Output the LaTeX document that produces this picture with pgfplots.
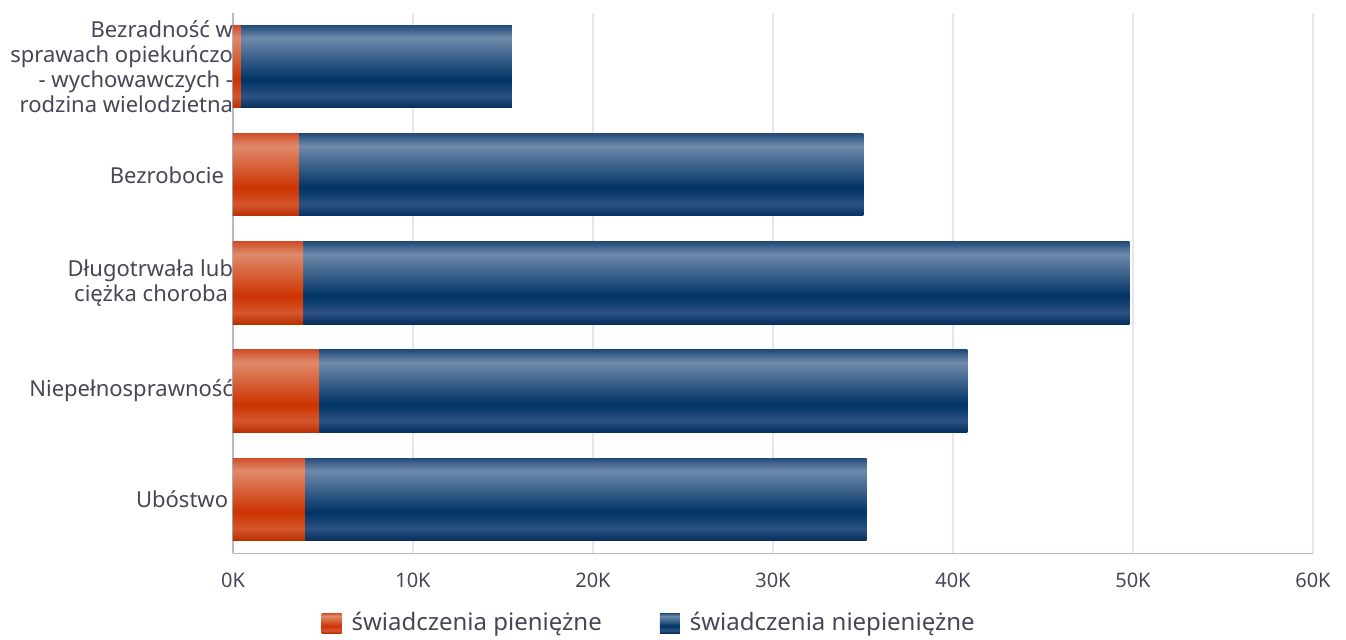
\documentclass[border=0pt]{standalone}
\usepackage{fontspec}
\setmainfont{Noto Sans}
\usepackage{pgfplots}
\pgfplotsset{compat=1.18}

\definecolor{txt}{HTML}{464657}
\definecolor{gridc}{HTML}{E6E6EE}
\definecolor{axc}{HTML}{B8B8CC}
% blue bar tones, top to bottom
\definecolor{bA}{HTML}{244C7A}
\definecolor{bB}{HTML}{6F8AAB}
\definecolor{bC}{HTML}{003366}
\definecolor{bD}{HTML}{2B5282}
\definecolor{bE}{HTML}{052F5E}
% orange bar tones, top to bottom
\definecolor{oA}{HTML}{D0502A}
\definecolor{oB}{HTML}{E08A6C}
\definecolor{oC}{HTML}{CC3300}
\definecolor{oD}{HTML}{D5562E}
\definecolor{oE}{HTML}{B83000}

\pgfdeclareverticalshading{blueshade}{100bp}{color(0bp)=(bE); color(25bp)=(bE); color(32bp)=(bD); color(42bp)=(bC); color(67.5bp)=(bB); color(75bp)=(bA); color(100bp)=(bA)}
\pgfdeclareverticalshading{orangeshade}{100bp}{color(0bp)=(oE); color(25bp)=(oE); color(32bp)=(oD); color(42bp)=(oC); color(67.5bp)=(oB); color(75bp)=(oA); color(100bp)=(oA)}

\pgfplotsset{
  blueb/.style={draw=none, shade, shading=blueshade, forget plot},
  orangeb/.style={draw=none, shade, shading=orangeshade, forget plot},
}

\begin{document}
\begin{tikzpicture}
\useasboundingbox (-116.5pt,-42.85pt) rectangle (556.5pt,276.65pt);
\begin{axis}[
  at={(0,0)}, anchor=south west,
  scale only axis,
  width=540pt, height=270.4pt,
  xbar, bar shift=0pt,
  bar width=0.76,
  xmin=0, xmax=60000,
  ymin=-0.5, ymax=4.5,
  axis x line*=bottom,
  axis y line*=left,
  axis line style={-, color=axc, line width=0.6pt},
  xmajorgrids,
  grid style={color=gridc, line width=0.6pt},
  xtick={0,10000,20000,30000,40000,50000,60000},
  xticklabels={0K,10K,20K,30K,40K,50K,60K},
  scaled x ticks=false,
  xtick style={draw=none},
  xticklabel style={anchor=base, yshift=-17pt, inner sep=0pt,
    font=\fontsize{10}{12}\selectfont, text=txt},
  ytick={0,1,2,3,4},
  yticklabels={Ubóstwo\hspace*{2.5pt},
    Niepełnosprawność,
    {Długotrwała lub\\ciężka choroba\hspace*{2.5pt}},
    Bezrobocie\hspace*{4.5pt},
    {Bezradność w\\sprawach opiekuńczo\\- wychowawczych -\\rodzina wielodzietna}},
  ytick style={draw=none},
  yticklabel style={align=right, inner sep=0pt, xshift=4.5pt,
    font=\fontsize{11}{12.5}\selectfont, text=txt},
  legend style={at={(0.389,-0.129)}, anchor=center, draw=none, fill=none,
    legend columns=2, font=\fontsize{12}{14}\selectfont, text=txt,
    nodes={inner xsep=5pt},
    /tikz/every even column/.append style={column sep=24pt}},
  legend image code/.code={\path[#1] (0pt,-5pt) rectangle (10pt,5pt);},
  legend cell align=left,
]
% total per category (niepieniężne drawn from 0, pieniężne laid over it)
\addplot[blueb] coordinates {(35200,0)};
\addplot[blueb] coordinates {(40800,1)};
\addplot[blueb] coordinates {(49800,2)};
\addplot[blueb] coordinates {(35020,3)};
\addplot[blueb] coordinates {(15500,4)};
% pieniężne
\addplot[orangeb] coordinates {(4000,0)};
\addplot[orangeb] coordinates {(4780,1)};
\addplot[orangeb] coordinates {(3900,2)};
\addplot[orangeb] coordinates {(3640,3)};
\addplot[orangeb] coordinates {(430,4)};
\addlegendimage{draw=none, shade, shading=orangeshade}
\addlegendentry{świadczenia pieniężne}
\addlegendimage{draw=none, shade, shading=blueshade}
\addlegendentry{świadczenia niepieniężne}
\end{axis}
\end{tikzpicture}
\end{document}
